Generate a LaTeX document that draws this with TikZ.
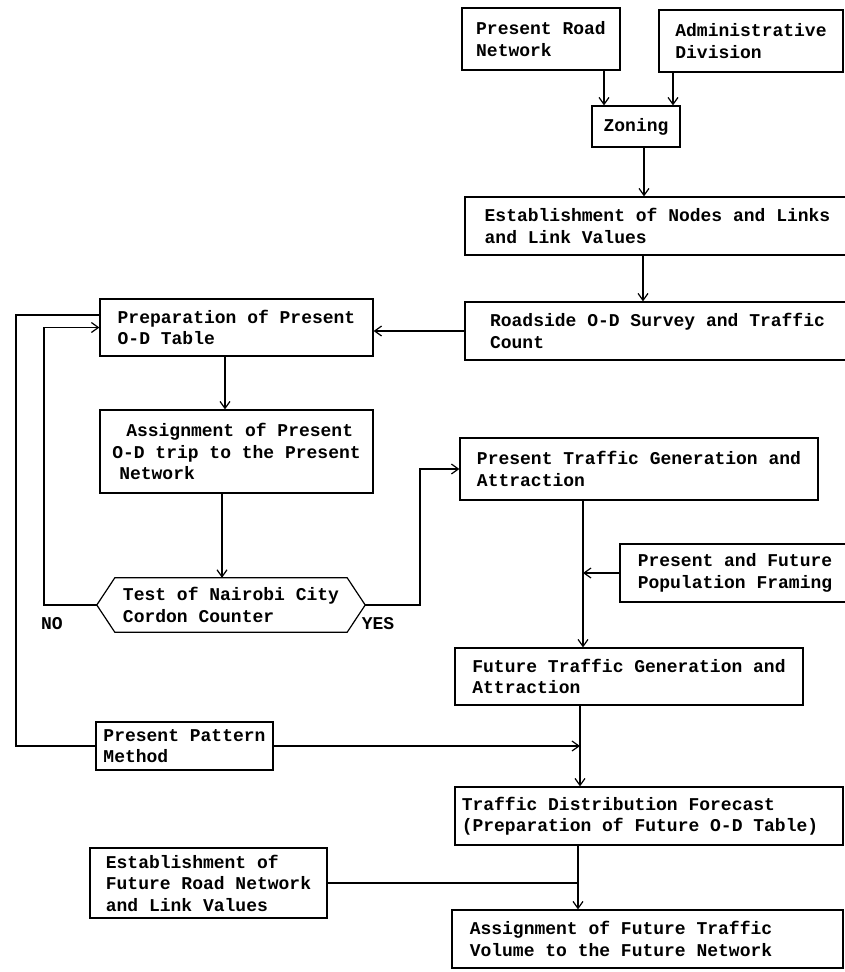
\documentclass[tikz,border=0pt]{standalone}
\usepackage{fontspec}
\setmainfont{Liberation Mono}
\usetikzlibrary{arrows.meta}
\begin{document}
\begin{tikzpicture}[x=1pt,y=-1pt,
  every node/.style={font=\fontsize{18}{21.5}\selectfont\bfseries},
  box/.style={draw, line width=1.2pt, rectangle, align=left, inner sep=3pt},
  arr/.style={line width=1.2pt, -{Straight Barb[length=7pt,width=10pt,line width=1.2pt]}},
  ln/.style={line width=1.2pt}]
\useasboundingbox (0,0) rectangle (845,972);
\fill[white] (0,0) rectangle (845,972);

% boxes
\node[box, minimum width=158pt, minimum height=62pt] (prn) at (541,39) {Present Road\\Network};
\node[box, minimum width=184pt, minimum height=62pt] (adm) at (751,41) {Administrative\\Division};
\node[box, minimum width=88pt, minimum height=41pt] (zon) at (636,126.5) {Zoning};
\node[box, minimum width=385pt, minimum height=58pt] (est) at (657.5,226) {Establishment of Nodes and Links\\and Link Values};
\node[box, minimum width=385pt, minimum height=58pt] (rod) at (657.5,331) {Roadside O-D Survey and Traffic\\Count};
\node[box, minimum width=273pt, minimum height=57pt] (prep) at (236.5,327.5) {Preparation of Present\\O-D Table};
\node[box, minimum width=273pt, minimum height=83pt] (asg) at (236.5,451.5) {\hspace*{14pt}Assignment of Present\\O-D trip to the Present\\\hspace*{7pt}Network};
\node[minimum width=268pt, minimum height=54pt, align=left, inner sep=3pt] (hex) at (231,605) {Test of Nairobi City\\Cordon Counter};
\draw[ln] (hex.west) -- ([xshift=18pt]hex.north west) -- ([xshift=-18pt]hex.north east) -- (hex.east)
  -- ([xshift=-18pt]hex.south east) -- ([xshift=18pt]hex.south west) -- cycle;
\node[box, minimum width=358pt, minimum height=62pt] (ptg) at (639,469) {Present Traffic Generation and\\Attraction};
\node[box, minimum width=230pt, minimum height=58pt] (pfpf) at (735,573) {Present and Future\\Population Framing};
\node[box, minimum width=348pt, minimum height=57pt] (ftg) at (629,676.5) {Future Traffic Generation and\\Attraction};
\node[box, minimum width=177pt, minimum height=48pt] (ppm) at (184.5,746) {Present Pattern\\Method};
\node[box, minimum width=388pt, minimum height=58pt] (tdf) at (649,816) {Traffic Distribution Forecast\\(Preparation of Future O-D Table)\hspace*{18pt}};
\node[box, minimum width=237pt, minimum height=70pt] (efrn) at (208.5,883) {Establishment of\\Future Road Network\\and Link Values};
\node[box, minimum width=391pt, minimum height=58pt] (aft) at (647.5,939) {Assignment of Future Traffic\hspace*{53pt}\\Volume to the Future Network};

% labels
\node (no) at (52,624) {NO};
\node (yes) at (378,624) {YES};

% connectors
\draw[arr] (prn.south -| 604,0) -- (zon.north -| 604,0);
\draw[arr] (adm.south -| 673,0) -- (zon.north -| 673,0);
\draw[arr] (zon.south -| 644,0) -- (est.north -| 644,0);
\draw[arr] (est.south -| 643,0) -- (rod.north -| 643,0);
\draw[arr] (rod.west) -- (rod.west -| prep.east);
\draw[arr] (prep.south -| 225,0) -- (asg.north -| 225,0);
\draw[arr] (asg.south -| 222,0) -- (hex.north -| 222,0);
\coordinate (noB) at (44,605);
\draw[arr] (hex.west) -- (noB) |- (prep.west);
\coordinate (yesB) at (420,605);
\draw[arr] (hex.east) -- (yesB) |- (ptg.west);
\draw[arr] (ptg.south -| 583,0) -- (ftg.north -| 583,0);
\draw[arr] (pfpf.west) -- (pfpf.west -| 583,0);
\coordinate (outB) at (16,746);
\draw[ln] ([yshift=12.5pt]prep.west) -| (outB) -- (ppm.west);
\draw[arr] (ftg.south -| 580,0) -- (tdf.north -| 580,0);
\draw[arr] (ppm.east) -- (ppm.east -| 580,0);
\draw[arr] (tdf.south -| 578,0) -- (aft.north -| 578,0);
\draw[ln] (efrn.east) -- (efrn.east -| 578,0);
\end{tikzpicture}
\end{document}
